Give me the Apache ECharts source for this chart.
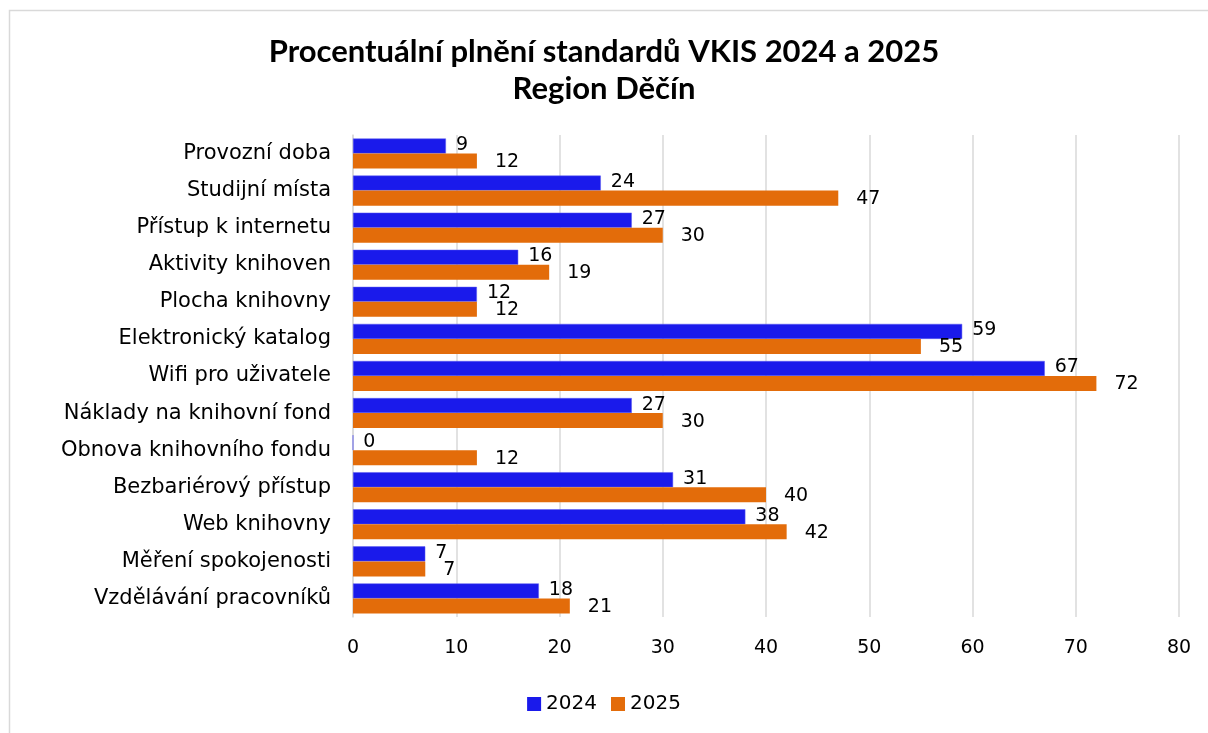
<!DOCTYPE html>
<html><head><meta charset="utf-8">
<script src="https://cdn.jsdelivr.net/npm/echarts@6/dist/echarts.min.js"></script>
<style>html,body{margin:0;padding:0;background:#fff}#c{width:1208px;height:733px}</style>
</head><body><div id="c"></div>
<script>
const categories = ["Provozní doba","Studijní místa","Přístup k internetu","Aktivity knihoven","Plocha knihovny","Elektronický katalog","Wifi pro uživatele","Náklady na knihovní fond","Obnova knihovního fondu","Bezbariérový přístup","Web knihovny","Měření spokojenosti","Vzdělávání pracovníků"];
const values2024 = [9,24,27,16,12,59,67,27,0,31,38,7,18];
const values2025 = [12,47,30,19,12,55,72,30,12,40,42,7,21];
const seriesNames = ["2024","2025"];
const xTicks = {min:0,max:80,interval:10};

const FONT = "'DejaVu Sans', sans-serif";
const TFONT = "Lato, 'DejaVu Sans', sans-serif";
const chart = echarts.init(document.getElementById('c'));
chart.setOption({
  animation:false,
  graphic:[{type:'rect',shape:{x:9.5,y:10.5,width:1220,height:740},style:{fill:'none',stroke:'#d9d9d9',lineWidth:1.5}}],
  title:{text:"Procentuální plnění standardů VKIS 2024 a 2025\nRegion Děčín",left:'center',top:28,
    textStyle:{fontFamily:TFONT,fontWeight:'bold',fontSize:31,lineHeight:37,color:'#000'}},
  legend:{bottom:14,left:'center',itemWidth:14,itemHeight:14,itemGap:14,icon:'rect',
    itemStyle:{borderWidth:0},
    textStyle:{fontFamily:FONT,fontSize:20,color:'#000'},data:seriesNames},
  grid:{left:353,right:29,top:135,bottom:116},
  xAxis:{type:'value',min:xTicks.min,max:xTicks.max,interval:xTicks.interval,
    axisLine:{show:false},axisTick:{show:false},
    splitLine:{lineStyle:{color:'#d9d9d9',width:1.5}},
    axisLabel:{fontFamily:FONT,fontSize:19,color:'#000',margin:22}},
  yAxis:{type:'category',data:categories,inverse:true,
    axisLine:{show:true,lineStyle:{color:'#d9d9d9',width:1.5}},axisTick:{show:false},
    axisLabel:{fontFamily:FONT,fontSize:21,color:'#000',margin:22}},
  series:[
    {name:seriesNames[0],type:'bar',data:values2024,barGap:'0%',barCategoryGap:'19%',
     itemStyle:{color:'#1a1aeb',borderColor:'#5a5af0',borderWidth:0.5},
     label:{show:true,position:'right',distance:10,offset:[0,-1],fontFamily:FONT,fontSize:19,color:'#000'}},
    {name:seriesNames[1],type:'bar',data:values2025,barGap:'0%',barCategoryGap:'19%',
     itemStyle:{color:'#e36c0a'},
     label:{show:true,position:'right',distance:18,offset:[0,1],fontFamily:FONT,fontSize:19,color:'#000'}}
  ]
});
</script></body></html>
